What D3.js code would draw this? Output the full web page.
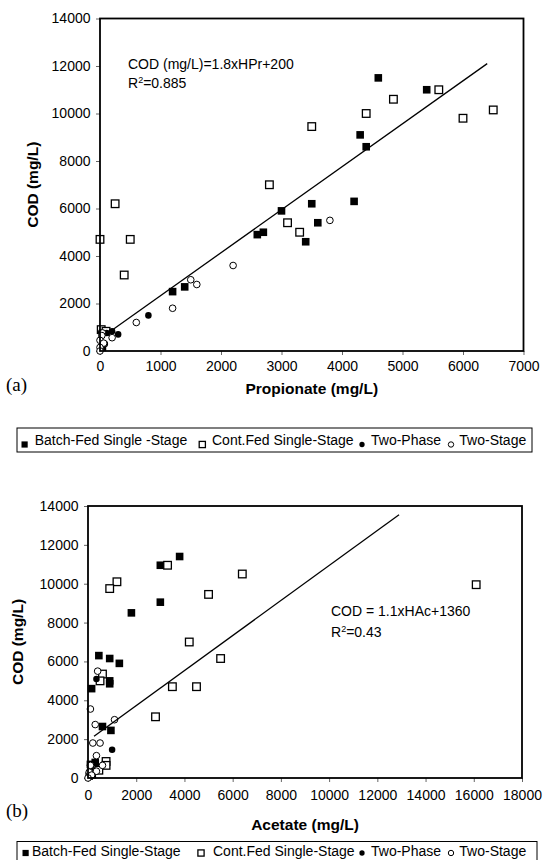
<!DOCTYPE html>
<html><head><meta charset="utf-8">
<script src="https://cdn.jsdelivr.net/npm/d3@7"></script>
<style>body{margin:0;background:#fff}svg{display:block}text{font-family:"Liberation Sans",Arial,sans-serif}text.serif{font-family:"Liberation Serif","Times New Roman",serif}</style>
</head><body>
<svg id="c" width="546" height="860"></svg>
<script>
// ---------- DATA ----------
// Chart (a): COD vs Propionate (mg/L)
const ticksXA = [0,1000,2000,3000,4000,5000,6000,7000];
const ticksY = [0,2000,4000,6000,8000,10000,12000,14000];
const batchA = [[4600,11500],[5400,11000],[4300,9100],[4400,8600],[3000,5900],[3500,6200],[4200,6300],[3600,5400],[2600,4900],[2700,5000],[3400,4600],[1200,2500],[1400,2700],[40,150]];
const contA = [[6500,10150],[5600,11000],[4850,10600],[4400,10000],[6000,9800],[3500,9450],[2800,7000],[250,6200],[0,4700],[500,4700],[400,3200],[3100,5400],[3300,5000],[20,900],[100,830]];
const twoPhaseA = [[800,1500],[200,830],[300,700],[110,760],[20,790],[80,300]];
const twoStageA = [[3800,5500],[2200,3600],[1500,3000],[1600,2800],[1200,1800],[600,1200],[200,560],[40,760],[30,650],[0,450],[60,330],[0,150],[0,0]];
const fitAx = [150,6400], fitAy = [790,12100];
const eqA = "COD (mg/L)=1.8xHPr+200", r2A = "=0.885";

// Chart (b): COD vs Acetate (mg/L)
const ticksXB = [0,2000,4000,6000,8000,10000,12000,14000,16000,18000];
const batchB = [[3800,11400],[3000,10950],[3000,9050],[1800,8500],[450,6300],[900,6150],[1300,5900],[900,5000],[900,4850],[150,4600],[600,2650],[950,2450],[300,800],[100,700],[250,350],[50,100]];
const contB = [[16100,9950],[6400,10500],[5000,9450],[3300,10950],[1200,10100],[900,9750],[4200,7000],[5500,6150],[3500,4700],[4500,4700],[2800,3150],[600,5350],[500,5000],[750,850],[750,650],[450,400],[150,200]];
const twoPhaseB = [[1000,1450],[350,5100],[300,800],[100,300]];
const twoStageB = [[400,5500],[100,3550],[300,2750],[1100,3000],[200,1800],[500,1800],[350,1150],[600,650],[100,650],[350,350],[50,300],[150,150],[0,0]];
const fitBx = [250,12900], fitBy = [2150,13550];
const eqB = "COD = 1.1xHAc+1360", r2B = "=0.43";

const legendA = ["Batch-Fed Single -Stage","Cont.Fed Single-Stage","Two-Phase","Two-Stage"];
const legendB = ["Batch-Fed Single-Stage","Cont.Fed Single-Stage","Two-Phase","Two-Stage"];
const yTitle = "COD (mg/L)";

// ---------- DRAW ----------
const svg = d3.select("#c");
svg.append("rect").attr("width",546).attr("height",860).attr("fill","#fff");

function marker(g, type, cx, cy, s){
  if(type===0){g.append("rect").attr("x",cx-s/2).attr("y",cy-s/2).attr("width",s).attr("height",s).attr("fill","#000");}
  else if(type===1){g.append("rect").attr("x",cx-s/2).attr("y",cy-s/2).attr("width",s).attr("height",s).attr("fill","#fff").attr("stroke","#000").attr("stroke-width",1.3);}
  else if(type===2){g.append("circle").attr("cx",cx).attr("cy",cy).attr("r",s*0.44).attr("fill","#000");}
  else {g.append("circle").attr("cx",cx).attr("cy",cy).attr("r",s*0.45).attr("fill","#fff").attr("stroke","#000").attr("stroke-width",1);}
}

function chart(cfg){
  const x = d3.scaleLinear().domain(cfg.xd).range(cfg.xr);
  const y = d3.scaleLinear().domain([0,14000]).range(cfg.yr);
  const g = svg.append("g");
  const ay = g.append("g").attr("transform",`translate(${cfg.xr[0]},0)`)
    .call(d3.axisLeft(y).tickValues(ticksY).tickSize(4).tickSizeOuter(0).tickPadding(5.5).tickFormat(d3.format("d")));
  const ax = g.append("g").attr("transform",`translate(0,${cfg.yr[0]})`)
    .call(d3.axisBottom(x).tickValues(cfg.xt).tickSize(4).tickSizeOuter(0).tickPadding(cfg.xpad).tickFormat(d3.format("d")));
  [ax,ay].forEach(a=>{a.select(".domain").remove();a.selectAll("line").attr("stroke","#666");
    a.selectAll("text").attr("font-size",14).attr("fill","#000");});
  const pts = g.append("g");
  [cfg.s0,cfg.s1,cfg.s2,cfg.s3].forEach((arr,t)=>{
    arr.forEach(d=>marker(pts,t,x(d[0]),y(d[1]),t<2?7.6:7.4));
  });
  g.append("line").attr("x1",x(cfg.fx[0])).attr("y1",y(cfg.fy[0])).attr("x2",x(cfg.fx[1])).attr("y2",y(cfg.fy[1]))
    .attr("stroke","#000").attr("stroke-width",1.3);
  g.append("rect").attr("x",cfg.xr[0]).attr("y",cfg.yr[1]).attr("width",cfg.xr[1]-cfg.xr[0]).attr("height",cfg.yr[0]-cfg.yr[1])
    .attr("fill","none").attr("stroke","#000").attr("stroke-width",1.8);
  g.append("text").attr("x",cfg.eqx).attr("y",cfg.eqy).attr("font-size",14).text(cfg.eq);
  const r = g.append("text").attr("x",cfg.eqx).attr("y",cfg.eqy+cfg.eqdy).attr("font-size",14);
  r.append("tspan").text("R");
  r.append("tspan").attr("font-size",9).attr("dy",-5).text("2");
  r.append("tspan").attr("dy",5).text(cfg.r2);
  g.append("text").attr("x",(cfg.xr[0]+cfg.xr[1])/2).attr("y",cfg.xty).attr("text-anchor","middle")
    .attr("font-size",15.5).attr("font-weight","bold").text(cfg.xtitle);
  g.append("text").attr("transform",`translate(${cfg.ytx},${(cfg.yr[0]+cfg.yr[1])/2}) rotate(-90)`).attr("text-anchor","middle")
    .attr("dy","0.35em").attr("font-size",15.5).attr("font-weight","bold").text(yTitle);
  g.append("text").attr("class","serif").attr("x",6).attr("y",cfg.laby).attr("font-size",19).text(cfg.lab);
  const L = cfg.leg;
  g.append("rect").attr("x",L.x0).attr("y",L.y0).attr("width",L.x1-L.x0).attr("height",L.h).attr("fill","none").attr("stroke","#000").attr("stroke-width",1);
  cfg.legNames.forEach((n,i)=>{
    marker(g,i,L.mx[i],L.my,i<2?6.2:6);
    g.append("text").attr("x",L.tx[i]).attr("y",L.ty).attr("font-size",14).text(n);
  });
}

chart({xd:[0,7000],xr:[100,523.5],yr:[351,18.5],xt:ticksXA,xpad:6,s0:batchA,s1:contA,s2:twoPhaseA,s3:twoStageA,
  fx:fitAx,fy:fitAy,eq:eqA,r2:r2A,eqx:128,eqy:69,eqdy:18.5,xtitle:"Propionate (mg/L)",xty:393.5,ytx:33,lab:"(a)",laby:390.5,
  legNames:legendA,leg:{x0:17,x1:532,y0:428,h:24,my:444.5,mx:[24.6,202.3,362,451],tx:[34.7,212,371,459.3],ty:445}});
chart({xd:[0,18000],xr:[88,522],yr:[778,506],xt:ticksXB,xpad:8,s0:batchB,s1:contB,s2:twoPhaseB,s3:twoStageB,
  fx:fitBx,fy:fitBy,eq:eqB,r2:r2B,eqx:331,eqy:616,eqdy:21,xtitle:"Acetate (mg/L)",xty:829.5,ytx:18,lab:"(b)",laby:816.5,
  legNames:legendB,leg:{x0:17,x1:537,y0:841.5,h:24,my:853,mx:[25.6,201,362,451],tx:[32,213,371,459.3],ty:856}});
</script>
</body></html>
